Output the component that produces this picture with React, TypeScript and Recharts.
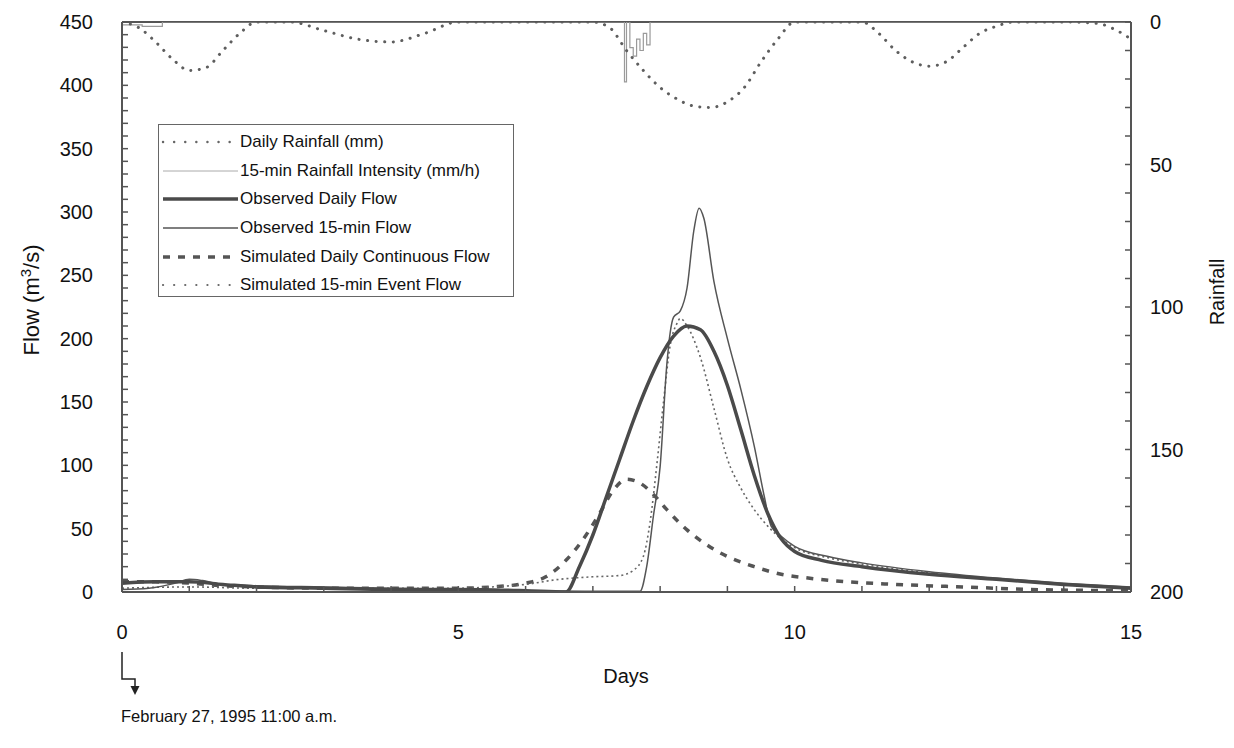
import React from 'react';
import { LineChart, Line, XAxis, YAxis, ReferenceLine } from 'recharts';

const FONT = '"Liberation Sans", Arial, Helvetica, sans-serif';

// ---- tick labels ----
const dayTickLabels = [0, 5, 10, 15];
const flowTickLabels = [0, 50, 100, 150, 200, 250, 300, 350, 400, 450];
const rainTickLabels = [0, 50, 100, 150, 200];
const dayMinorTicks = Array.from({ length: 16 }, (_, i) => i);
const flowMinorTicks = Array.from({ length: 46 }, (_, i) => i * 10);
const rainMinorTicks = Array.from({ length: 21 }, (_, i) => i * 10);

// ---- Daily Rainfall (mm), right axis ----
const rainDays = [0, 0.25, 0.5, 0.75, 1, 1.25, 1.5, 1.75, 2, 2.5, 3, 3.5, 4, 4.5, 5, 6, 7, 7.25, 7.5, 7.75, 8, 8.25, 8.5, 8.75, 9, 9.25, 9.5, 9.75, 10, 11, 11.25, 11.5, 11.75, 12, 12.25, 12.5, 12.75, 13, 13.25, 14, 14.5, 14.75, 15];
const rainDaily = [0, 2, 7, 13, 17, 16, 10, 4, 0, 0, 3, 6, 7, 4, 0, 0, 0, 2, 10, 17, 23, 27, 29.5, 30, 28, 23, 14, 6, 0, 0, 4, 10, 14, 15.5, 14, 9, 4, 1.5, 0, 0, 0.5, 2.5, 6];

// ---- 15-min Rainfall Intensity (mm/h), right axis ----
const intensityDays = [0, 0.3, 0.6, 7.45, 7.47, 7.5, 7.55, 7.6, 7.65, 7.7, 7.75, 7.8, 7.85, 15];
const intensityValues = [1, 1.5, 0, 0, 21, 0, 9, 12, 6, 10, 4, 8, 0, 0];

// ---- Observed Daily Flow ----
const obsDailyDays = [0, 0.5, 1, 1.5, 2, 3, 4, 5, 6, 6.6, 6.8, 7.0, 7.2, 7.4, 7.6, 7.8, 8.0, 8.2, 8.4, 8.6, 8.8, 9.0, 9.2, 9.4, 9.6, 9.8, 10.0, 10.4, 11, 12, 13, 14, 15];
const obsDailyFlow = [7, 8, 8, 6, 4, 3, 2, 2, 1, 0, 20, 45, 75, 105, 135, 162, 185, 202, 210, 207, 190, 163, 128, 92, 62, 42, 32, 25, 20, 14, 10, 6, 3];

// ---- Observed 15-min Flow ----
const obs15Days = [0, 0.4, 0.8, 1.0, 1.2, 1.5, 2, 3, 4, 5, 6, 7, 7.7, 7.8, 7.9, 8.0, 8.1, 8.15, 8.2, 8.3, 8.4, 8.5, 8.58, 8.65, 8.8, 9.0, 9.2, 9.4, 9.55, 9.65, 9.8, 10, 10.5, 11, 12, 13, 14, 15];
const obs15Flow = [2, 3, 7, 10, 9, 6, 5, 4, 3, 2, 1, 0.5, 0.5, 20, 60, 99, 180, 205, 217, 222, 240, 285, 303, 295, 245, 200, 160, 115, 75, 52, 44, 36, 28, 23, 16, 11, 7, 4];

// ---- Simulated Daily Continuous Flow ----
const simDailyDays = [0, 0.5, 1, 1.5, 2, 3, 4, 5, 5.5, 6, 6.3, 6.6, 6.9, 7.1, 7.3, 7.5, 7.7, 7.9, 8.1, 8.4, 8.7, 9.0, 9.4, 9.8, 10.2, 10.8, 11.5, 12.5, 13.5, 15];
const simDailyFlow = [8, 8, 7, 5, 4, 3, 3, 3, 4, 7, 12, 25, 45, 62, 80, 89, 86, 77, 65, 49, 37, 28, 20, 14, 11, 8, 6, 4, 2, 1];

// ---- Simulated 15-min Event Flow ----
const simEventDays = [0, 1, 2, 3, 4, 5, 5.5, 6, 6.5, 7, 7.4, 7.6, 7.75, 7.85, 7.95, 8.05, 8.15, 8.25, 8.3, 8.4, 8.6, 8.8, 9.0, 9.2, 9.4, 9.6, 9.8, 10, 10.5, 11, 12, 13, 14, 15];
const simEventFlow = [3, 4, 3, 3, 3, 3, 4, 6, 10, 12, 13, 17, 28, 55, 100, 150, 195, 212, 216, 210, 185, 145, 105, 82, 65, 52, 42, 35, 27, 22, 15, 10, 6, 3];

const zip = (xs: number[], ys: number[]) => xs.map((x, i) => ({ x, y: ys[i] }));

const styles = {
  rain: { stroke: '#5e5e5e', strokeWidth: 3, strokeDasharray: '0.1 8.5' },
  intensity: { stroke: '#9a9a9a', strokeWidth: 1.2, strokeDasharray: '' },
  obsDaily: { stroke: '#4a4a4a', strokeWidth: 3.5, strokeDasharray: '' },
  obs15: { stroke: '#555', strokeWidth: 1.5, strokeDasharray: '' },
  simDaily: { stroke: '#555', strokeWidth: 3.5, strokeDasharray: '7 8' },
  simEvent: { stroke: '#666', strokeWidth: 1.6, strokeDasharray: '2 3' },
};

const legendItems = [
  { label: 'Daily Rainfall (mm)', stroke: '#666', w: 2.4, dash: '0.1 11', cap: 'round' },
  { label: '15-min Rainfall Intensity (mm/h)', stroke: '#aaa', w: 1, dash: '', cap: 'butt' },
  { label: 'Observed Daily Flow', stroke: '#4a4a4a', w: 3.5, dash: '', cap: 'butt' },
  { label: 'Observed 15-min Flow', stroke: '#555', w: 1.5, dash: '', cap: 'butt' },
  { label: 'Simulated Daily Continuous Flow', stroke: '#555', w: 3.5, dash: '7 8', cap: 'butt' },
  { label: 'Simulated 15-min Event Flow', stroke: '#666', w: 2.2, dash: '0.1 11', cap: 'round' },
];

const AXIS = '#555';

const DayTick = (props: any) => {
  const { x, y, payload } = props;
  const v = payload.value;
  const lab = dayTickLabels.includes(v);
  return (
    <g>
      <line x1={x} x2={x} y1={y} y2={y - 6} stroke={AXIS} strokeWidth={1.5} />
      {lab && (
        <text x={x} y={y + 47} textAnchor="middle" fontSize={20} fontFamily={FONT} fill="#111">
          {v}
        </text>
      )}
    </g>
  );
};

const FlowTick = (props: any) => {
  const { x, y, payload } = props;
  const v = payload.value;
  const lab = flowTickLabels.includes(v);
  return (
    <g>
      <line x1={x} x2={x + 6} y1={y} y2={y} stroke={AXIS} strokeWidth={1.5} />
      {lab && (
        <text x={x - 29} y={y + 7} textAnchor="end" fontSize={20} fontFamily={FONT} fill="#111">
          {v}
        </text>
      )}
    </g>
  );
};

const RainTick = (props: any) => {
  const { x, y, payload } = props;
  const v = payload.value;
  const lab = rainTickLabels.includes(v);
  return (
    <g>
      <line x1={x} x2={x - 6} y1={y} y2={y} stroke={AXIS} strokeWidth={1.5} />
      {lab && (
        <text x={x + 19} y={y + 7} textAnchor="start" fontSize={20} fontFamily={FONT} fill="#111">
          {v}
        </text>
      )}
    </g>
  );
};

const LegendBox = () => (
  <div
    style={{
      position: 'absolute',
      left: 158,
      top: 124,
      border: '1.5px solid #666',
      background: '#fff',
      width: 356,
      height: 173,
      boxSizing: 'border-box',
      paddingTop: 3,
      fontFamily: FONT,
    }}
  >
    {legendItems.map((it) => (
      <div key={it.label} style={{ display: 'flex', alignItems: 'center', height: 28.6 }}>
        <svg width={80} height={12} style={{ marginLeft: 1 }}>
          <line
            x1={3}
            x2={78}
            y1={6}
            y2={6}
            stroke={it.stroke}
            strokeWidth={it.w}
            strokeLinecap={it.cap as any}
            strokeDasharray={it.dash || undefined}
          />
        </svg>
        <span style={{ fontSize: 17, color: '#111', whiteSpace: 'nowrap' }}>{it.label}</span>
      </div>
    ))}
  </div>
);

export default function App() {
  return (
    <div
      style={{
        position: 'absolute',
        left: 0,
        top: 0,
        width: 1234,
        height: 748,
        background: '#fff',
        fontFamily: FONT,
        overflow: 'hidden',
      }}
    >
      <LineChart width={1234} height={748} margin={{ top: 22, right: 43, bottom: 96, left: 62 }}>
        <XAxis
          type="number"
          dataKey="x"
          domain={[0, 15]}
          ticks={dayMinorTicks}
          interval={0}
          tick={(p: any) => <DayTick {...p} />}
          tickSize={0}
          tickMargin={0}
          tickLine={false}
          height={60}
          axisLine={{ stroke: AXIS, strokeWidth: 2 }}
          allowDataOverflow
        />
        <YAxis
          yAxisId="flow"
          type="number"
          domain={[0, 450]}
          ticks={flowMinorTicks}
          interval={0}
          tick={(p: any) => <FlowTick {...p} />}
          tickSize={0}
          tickMargin={0}
          tickLine={false}
          width={60}
          axisLine={{ stroke: AXIS, strokeWidth: 2 }}
          allowDataOverflow
        />
        <YAxis
          yAxisId="rain"
          orientation="right"
          type="number"
          reversed
          domain={[0, 200]}
          ticks={rainMinorTicks}
          interval={0}
          tick={(p: any) => <RainTick {...p} />}
          tickSize={0}
          tickMargin={0}
          tickLine={false}
          width={60}
          axisLine={{ stroke: AXIS, strokeWidth: 2 }}
          allowDataOverflow
        />
        <ReferenceLine yAxisId="flow" y={450} stroke={AXIS} strokeWidth={2} />
        <Line
          data={zip(intensityDays, intensityValues)}
          dataKey="y"
          yAxisId="rain"
          type="stepAfter"
          stroke={styles.intensity.stroke}
          strokeWidth={styles.intensity.strokeWidth}
          dot={false}
          activeDot={false}
          isAnimationActive={false}
          name="15-min Rainfall Intensity (mm/h)"
        />
        <Line
          data={zip(rainDays, rainDaily)}
          dataKey="y"
          yAxisId="rain"
          type="monotone"
          stroke={styles.rain.stroke}
          strokeWidth={styles.rain.strokeWidth}
          strokeDasharray={styles.rain.strokeDasharray}
          strokeLinecap="round"
          dot={false}
          activeDot={false}
          isAnimationActive={false}
          name="Daily Rainfall (mm)"
        />
        <Line
          data={zip(simDailyDays, simDailyFlow)}
          dataKey="y"
          yAxisId="flow"
          type="monotone"
          stroke={styles.simDaily.stroke}
          strokeWidth={styles.simDaily.strokeWidth}
          strokeDasharray={styles.simDaily.strokeDasharray}
          dot={false}
          activeDot={false}
          isAnimationActive={false}
          name="Simulated Daily Continuous Flow"
        />
        <Line
          data={zip(simEventDays, simEventFlow)}
          dataKey="y"
          yAxisId="flow"
          type="monotone"
          stroke={styles.simEvent.stroke}
          strokeWidth={styles.simEvent.strokeWidth}
          strokeDasharray={styles.simEvent.strokeDasharray}
          dot={false}
          activeDot={false}
          isAnimationActive={false}
          name="Simulated 15-min Event Flow"
        />
        <Line
          data={zip(obs15Days, obs15Flow)}
          dataKey="y"
          yAxisId="flow"
          type="monotone"
          stroke={styles.obs15.stroke}
          strokeWidth={styles.obs15.strokeWidth}
          dot={false}
          activeDot={false}
          isAnimationActive={false}
          name="Observed 15-min Flow"
        />
        <Line
          data={zip(obsDailyDays, obsDailyFlow)}
          dataKey="y"
          yAxisId="flow"
          type="monotone"
          stroke={styles.obsDaily.stroke}
          strokeWidth={styles.obsDaily.strokeWidth}
          dot={false}
          activeDot={false}
          isAnimationActive={false}
          name="Observed Daily Flow"
        />
      </LineChart>

      <LegendBox />

      {/* Axis titles */}
      <div
        style={{
          position: 'absolute',
          left: 31,
          top: 300,
          transform: 'translate(-50%, -50%) rotate(-90deg)',
          fontSize: 22,
          whiteSpace: 'nowrap',
          color: '#111',
        }}
      >
        Flow (m<sup style={{ fontSize: 15 }}>3</sup>/s)
      </div>
      <div
        style={{
          position: 'absolute',
          left: 1217,
          top: 292,
          transform: 'translate(-50%, -50%) rotate(-90deg)',
          fontSize: 20,
          whiteSpace: 'nowrap',
          color: '#111',
        }}
      >
        Rainfall
      </div>
      <div
        style={{
          position: 'absolute',
          left: 626,
          top: 676,
          transform: 'translate(-50%, -50%)',
          fontSize: 20,
          whiteSpace: 'nowrap',
          color: '#111',
        }}
      >
        Days
      </div>

      {/* Start-date annotation */}
      <svg style={{ position: 'absolute', left: 0, top: 0 }} width={1234} height={748} pointerEvents="none">
        <path d="M122 652 L122 679 L135 679 L135 687" fill="none" stroke="#222" strokeWidth={1.5} />
        <path d="M130.5 686 L139.5 686 L135 695 Z" fill="#222" />
      </svg>
      <div
        style={{
          position: 'absolute',
          left: 121,
          top: 716,
          transform: 'translateY(-50%)',
          fontSize: 16.5,
          whiteSpace: 'nowrap',
          color: '#111',
        }}
      >
        February 27, 1995 11:00 a.m.
      </div>
    </div>
  );
}
